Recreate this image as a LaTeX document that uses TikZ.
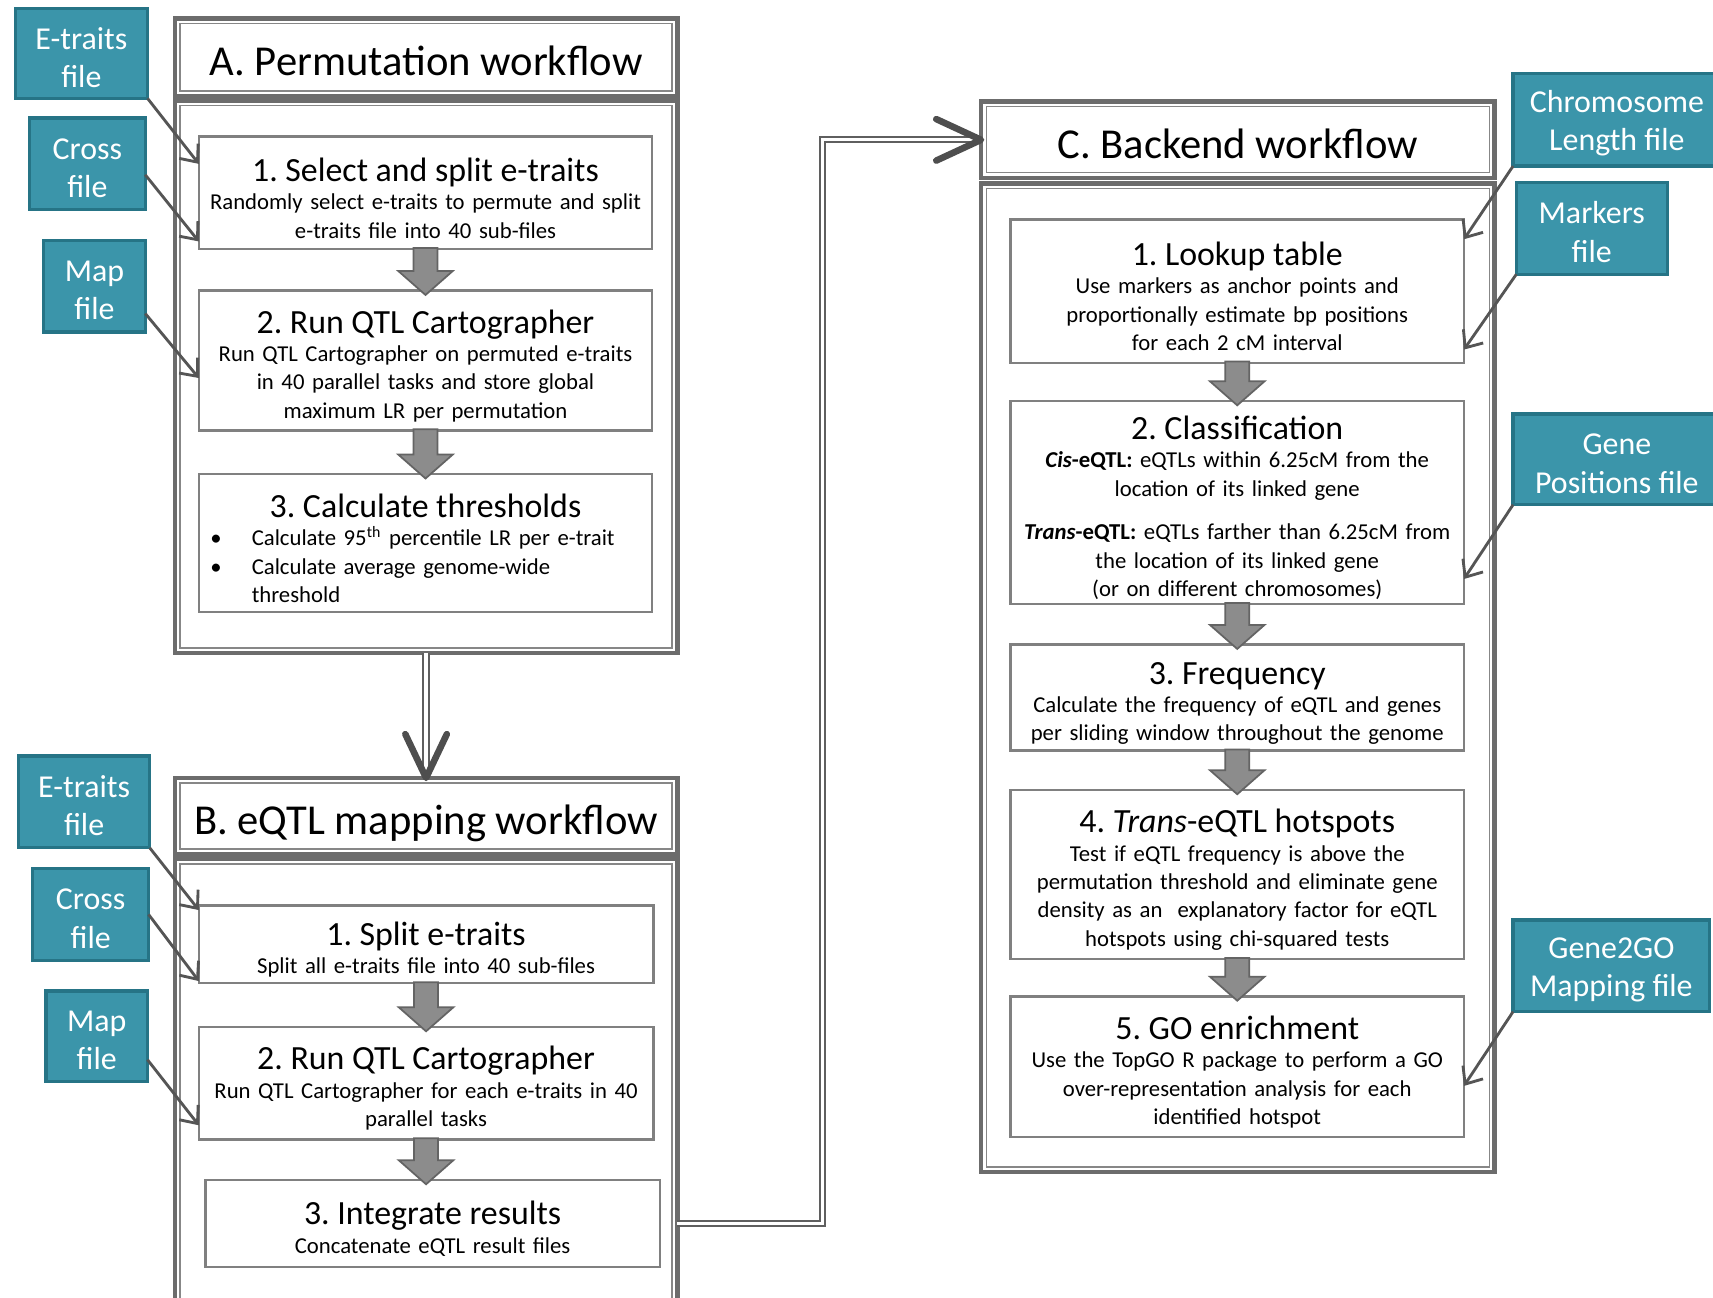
\documentclass[tikz,border=0pt]{standalone}
\usepackage{fontspec}
\setmainfont{Carlito}
\usetikzlibrary{arrows.meta,calc}
\setlength\parindent{0pt}
\frenchspacing
\definecolor{tealfill}{RGB}{59,149,170}
\definecolor{tealdraw}{RGB}{38,116,134}
\definecolor{boxgray}{RGB}{128,128,128}
\definecolor{framegray}{RGB}{108,108,108}
\definecolor{innergray}{RGB}{135,135,135}
\definecolor{arrowfill}{RGB}{140,140,140}
\definecolor{arrowdraw}{RGB}{100,100,100}
\definecolor{conngray}{RGB}{85,85,85}
\definecolor{dblgray}{RGB}{95,95,95}
\definecolor{chevgray}{RGB}{78,78,78}
\newcommand\sttl[1]{{\fontsize{15.5}{18}\selectfont\rule{0pt}{15.5pt}#1\par}}
\newcommand\tup{\rule{0pt}{13.5pt}}
\newcommand\innerframe[1]{\draw[innerline] ([shift={(2.4pt,-2.4pt)}]#1.north west) rectangle ([shift={(-2.4pt,2.4pt)}]#1.south east);}
\newcommand\blockarr[2]{\draw[blockarrow] let \p1=(#1.south), \p2=(#2.north) in
  (\x1-5.5pt,\y1+0.5pt) -- (\x1+5.5pt,\y1+0.5pt) -- (\x1+5.5pt,\y2+9pt) -- (\x1+12.5pt,\y2+9pt)
  -- (\x1,\y2-2pt) -- (\x1-12.5pt,\y2+9pt) -- (\x1-5.5pt,\y2+9pt) -- cycle;}
\begin{document}
\begin{tikzpicture}[x=0.5pt,y=-0.5pt,
  every node/.style={outer sep=0pt},
  filebox/.style={draw=tealdraw, fill=tealfill, line width=1.5pt, text=white,
    font=\fontsize{14.6}{17.5}\selectfont, align=center, inner sep=0pt},
  stepbox/.style={draw=boxgray, fill=white, line width=1.1pt,
    font=\fontsize{10.4}{13}\selectfont, align=center, inner sep=0pt},
  framebox/.style={draw=framegray, fill=white, line width=2pt, inner sep=0pt,
    font=\fontsize{19.5}{23}\selectfont, text height=17pt, text depth=0pt},
  innerline/.style={draw=innergray, line width=0.6pt},
  blockarrow/.style={fill=arrowfill, draw=arrowdraw, line width=0.8pt, line join=miter},
  inarrow/.style={draw=conngray, line width=1.3pt, -{Straight Barb[length=6.5pt,width=11pt]}},
  dblline/.style={draw=dblgray, line width=0.9pt, double=white, double distance=1.5pt},
  chevron/.style={draw=chevgray, line width=3pt, line cap=round, line join=round},
]
\useasboundingbox (0,0) rectangle (1568,1188);
\clip (0,0) rectangle (1568,1188);
\fill[white] (0,0) rectangle (1568,1188);

% ---------- A ----------
\node[framebox, minimum width=230pt, minimum height=253pt] (acont) at (390,345) {};
\node[framebox, minimum width=230pt, minimum height=35.5pt] (atitle) at (390,52.5) {A. Permutation workflow};
\innerframe{acont}
\innerframe{atitle}

\node[stepbox, minimum width=207.5pt, minimum height=51.5pt, text width=205pt] (a1) at (389.5,176.5)
  {\sttl{1. Select and split e-traits}Randomly select e-traits to permute and split\\e-traits file into 40 sub-files};
\node[stepbox, minimum width=207.5pt, minimum height=64pt, text width=205pt] (a2) at (389.5,330)
  {\sttl{2. Run QTL Cartographer}Run QTL Cartographer on permuted e-traits\\in 40 parallel tasks and store global\\maximum LR per permutation};
\node[stepbox, minimum width=207.5pt, minimum height=63pt, text width=205pt] (a3) at (389.5,497)
  {\sttl{3. Calculate thresholds}{\raggedright
   \hspace*{4pt}\makebox[19pt][l]{\textbullet}Calculate 95\textsuperscript{th} percentile LR per e-trait\par
   \hspace*{4pt}\makebox[19pt][l]{\textbullet}Calculate average genome-wide\par
   \hspace*{23pt}threshold\par}};
\blockarr{a1}{a2}
\blockarr{a2}{a3}

% ---------- B ----------
\node[framebox, minimum width=230pt, minimum height=214.5pt] (bcont) at (390,1000.5) {};
\node[framebox, minimum width=230pt, minimum height=35pt] (btitle) at (390,747) {B. eQTL mapping workflow};
\innerframe{bcont}
\innerframe{btitle}

\node[stepbox, minimum width=208pt, minimum height=35.5pt, text width=205pt] (b1) at (390,864.5)
  {\sttl{1. Split e-traits}Split all e-traits file into 40 sub-files};
\node[stepbox, minimum width=208pt, minimum height=51.5pt, text width=205pt] (b2) at (390,991.5)
  {\sttl{2. Run QTL Cartographer}Run QTL Cartographer for each e-traits in 40\\parallel tasks};
\node[stepbox, minimum width=208pt, minimum height=40pt, text width=205pt] (b3) at (396,1120)
  {\sttl{3. Integrate results}Concatenate eQTL result files};
\blockarr{b1}{b2}
\blockarr{b2}{b3}

% ---------- C ----------
\node[framebox, minimum width=235pt, minimum height=452.5pt] (ccont) at (1133,620.5) {};
\node[framebox, minimum width=235pt, minimum height=35pt] (ctitle) at (1133,128) {C. Backend workflow};
\innerframe{ccont}
\innerframe{ctitle}

\node[stepbox, minimum width=207.5pt, minimum height=65.5pt, text width=205pt] (c1) at (1132.5,266.5)
  {\sttl{1. Lookup table}Use markers as anchor points and\\proportionally estimate bp positions\\for each 2 cM interval};
\node[stepbox, minimum width=207.5pt, minimum height=93pt, text width=205pt] (c2) at (1132.5,460)
  {\sttl{2. Classification}\textbf{\textit{Cis}-eQTL:} eQTLs within 6.25cM from the\\location of its linked gene\par
   \vspace{7pt}
   \textbf{\textit{Trans}-eQTL:} eQTLs farther than 6.25cM from\\the location of its linked gene\\(or on different chromosomes)};
\node[stepbox, minimum width=207.5pt, minimum height=48.5pt, text width=205pt] (c3) at (1132.5,638.5)
  {\sttl{3. Frequency}Calculate the frequency of eQTL and genes\\per sliding window throughout the genome};
\node[stepbox, minimum width=207.5pt, minimum height=77.5pt, text width=205pt] (c4) at (1132.5,800.5)
  {\sttl{4. \textit{Trans}-eQTL hotspots}Test if eQTL frequency is above the\\permutation threshold and eliminate gene\\density as an\ \ explanatory factor for eQTL\\hotspots using chi-squared tests};
\node[stepbox, minimum width=207.5pt, minimum height=64.5pt, text width=205pt] (c5) at (1132.5,976.5)
  {\sttl{5. GO enrichment}Use the TopGO R package to perform a GO\\over-representation analysis for each\\identified hotspot};
\blockarr{c1}{c2}
\blockarr{c2}{c3}
\blockarr{c3}{c4}
\blockarr{c4}{c5}

% ---------- input files ----------
\node[filebox, minimum width=60.5pt, minimum height=41pt] (aE) at (74.5,49) {\tup E-traits\\file};
\node[filebox, minimum width=53pt, minimum height=42pt] (aC) at (80,150) {\tup Cross\\file};
\node[filebox, minimum width=46.5pt, minimum height=42pt] (aM) at (86.5,262) {\tup Map\\file};
\node[filebox, minimum width=60pt, minimum height=42pt] (bE) at (77,734) {\tup E-traits\\file};
\node[filebox, minimum width=53pt, minimum height=42pt] (bC) at (83,837) {\tup Cross\\file};
\node[filebox, minimum width=46.5pt, minimum height=41.5pt] (bM) at (88.5,948.5) {\tup Map\\file};
\node[filebox, minimum width=95pt, minimum height=42.5pt] (cChr) at (1480,109.5) {\tup Chromosome\\Length file};
\node[filebox, minimum width=69pt, minimum height=42pt] (cMk) at (1457,209) {\tup Markers\\file};
\node[filebox, minimum width=95pt, minimum height=41.5pt] (cGP) at (1480,420.5) {\tup Gene\\Positions file};
\node[filebox, minimum width=90pt, minimum height=42pt] (cGO) at (1475,884) {\tup Gene2GO\\Mapping file};

\draw[inarrow] (aE.south east) -- ([yshift=-12.5pt]a1.north west);
\draw[inarrow] ([yshift=-5pt]aC.east) -- ([yshift=3.5pt]a1.south west);
\draw[inarrow] ([yshift=-12.5pt]aM.east) -- ([yshift=-40pt]a2.north west);
\draw[inarrow] (bE.south east) -- ([yshift=-2pt]b1.north west);
\draw[inarrow] (bC.east) -- ([yshift=1pt]b1.south west);
\draw[inarrow] ([yshift=-10.75pt]bM.east) -- ([yshift=6.5pt]b2.south west);
\draw[inarrow] (cChr.south west) -- ([yshift=-9pt]c1.north east);
\draw[inarrow] (cMk.south west) -- ([yshift=6pt]c1.south east);
\draw[inarrow] (cGP.south west) -- ([yshift=11.5pt]c2.south east);
\draw[inarrow] (cGO.south west) -- ([yshift=-41pt]c5.north east);

% ---------- workflow connectors ----------
\draw[dblline] (acont.south) -- (btitle.north);
\draw[chevron] ([shift={(-9.5pt,20pt)}]btitle.north) -- (btitle.north) -- ([shift={(9.5pt,20pt)}]btitle.north);

\coordinate (bend) at (753,1120);
\draw[dblline, line join=miter] (b3.east -| bcont.east) -| (bend |- ctitle.west) -- (ctitle.west);
\draw[chevron] ([shift={(-20.5pt,9.5pt)}]ctitle.west) -- (ctitle.west) -- ([shift={(-20.5pt,-9.5pt)}]ctitle.west);
\end{tikzpicture}
\end{document}
